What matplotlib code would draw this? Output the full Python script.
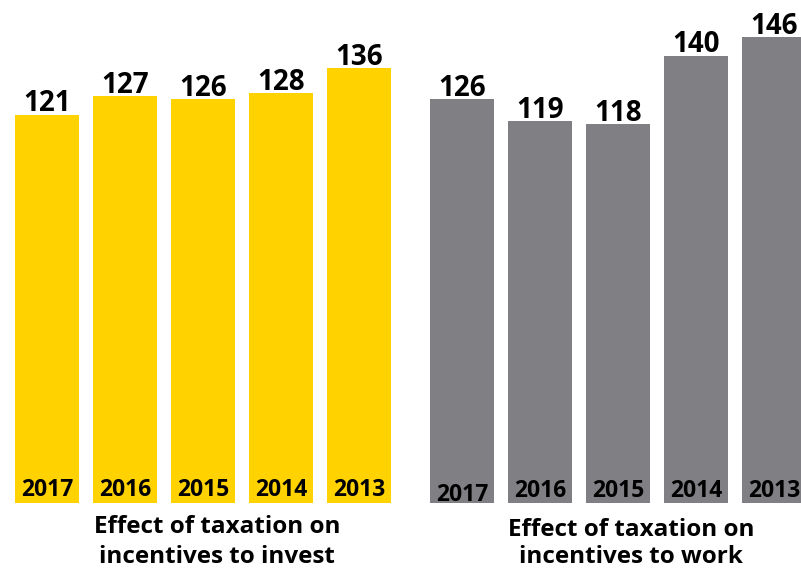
import numpy as np
import matplotlib.pyplot as plt

plt.rcParams['font.family'] = ['Open Sans', 'DejaVu Sans']

years = ['2017', '2016', '2015', '2014', '2013']
invest = [121, 127, 126, 128, 136]
work = [126, 119, 118, 140, 146]
labels = ['Effect of taxation on\nincentives to invest',
          'Effect of taxation on\nincentives to work']

yellow = '#FFD200'
grey = '#808084'
base = -4

fig = plt.figure(figsize=(8.01, 5.70), dpi=100)
ax = fig.add_axes([0, 67 / 570, 1, 503 / 570])

x_left = np.arange(5)
x_right = np.arange(5) + 5.32
w = 0.81

for xs, vals, col in [(x_left, invest, yellow), (x_right, work, grey)]:
    heights = [v - base for v in vals]
    bars = ax.bar(xs, heights, bottom=base, width=w, color=col)
    for b, v in zip(bars, vals):
        ax.annotate(str(v), (b.get_x() + b.get_width() / 2, v),
                    xytext=(0, 2.5), textcoords='offset points',
                    ha='center', va='baseline', fontsize=20, fontweight='bold')

# years inside the bars, near the bottom
for i, yr in enumerate(years):
    ax.annotate(yr, (x_left[i], base), xytext=(0, 5), textcoords='offset points',
                ha='center', va='baseline', fontsize=16.5, fontweight='bold')
    dy = 1.4 if i == 0 else 4.3
    ax.annotate(yr, (x_right[i], base), xytext=(0, dy), textcoords='offset points',
                ha='center', va='baseline', fontsize=16.5, fontweight='bold')

ax.set_xlim(-47 / 78, (801 - 47) / 78)
ax.set_ylim(base, 158)
ax.axis('off')

# group captions, one text per line
for lab, cx, lines_y in [(labels[0], 217, (533, 563)), (labels[1], 631, (536, 563))]:
    for line, py in zip(lab.split('\n'), lines_y):
        fig.text(cx / 801, 1 - py / 570, line, ha='center', va='baseline',
                 fontsize=17.5, fontweight='bold')

fig.savefig('out.png', dpi=100)
